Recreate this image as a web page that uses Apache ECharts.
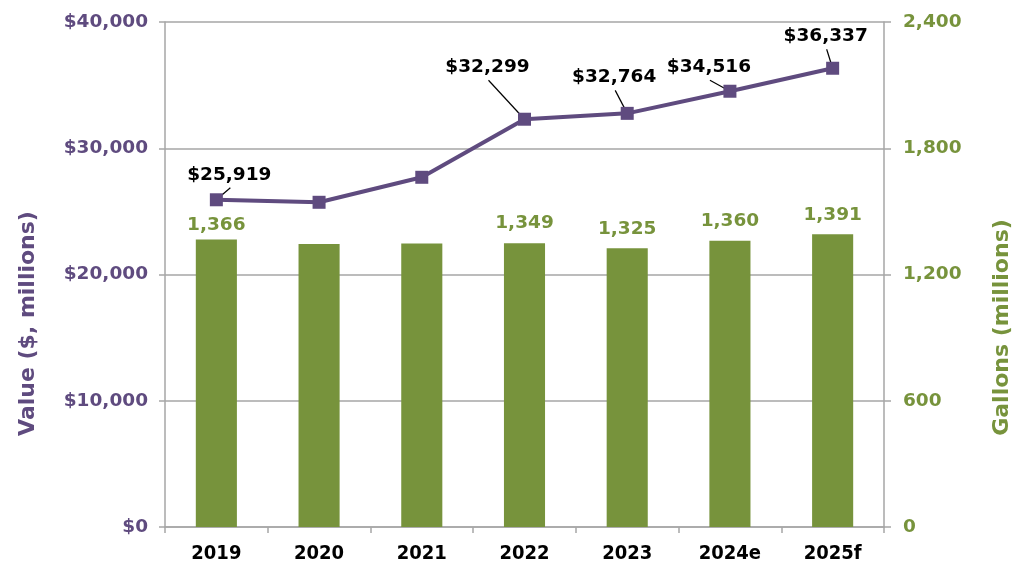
<!DOCTYPE html>
<html>
<head>
<meta charset="utf-8">
<script src="https://cdn.jsdelivr.net/npm/echarts@6/dist/echarts.min.js"></script>
<style>
html,body{margin:0;padding:0;background:#fff;}
#chart{width:1024px;height:579px;}
</style>
</head>
<body>
<div id="chart"></div>
<script>
const categories = ['2019', '2020', '2021', '2022', '2023', '2024e', '2025f'];
const valueMillions = [25919, 25720, 27700, 32299, 32764, 34516, 36337];
const gallonsMillions = [1366, 1345, 1347, 1349, 1325, 1360, 1391];
const valueLabelShown = [true, false, false, true, true, true, true];
const gallonsLabelShown = [true, false, false, true, true, true, true];
const leftTicks = [0, 10000, 20000, 30000, 40000];
const rightTicks = [0, 600, 1200, 1800, 2400];

const PURPLE = '#5f4b7f';
const GREEN = '#77933c';
const GRID = '#a6a6a6';
const FONT = '"DejaVu Sans", Verdana, sans-serif';
const COND = '"DejaVu Sans Condensed", "DejaVu Sans", sans-serif';

// label offsets (layout only) for the value labels, by category index
const valueLabelOffsets = {0: [13, -25], 3: [-37, -52], 4: [-13, -36], 5: [-21, -24], 6: [-7, -32]};

const fmt = v => v.toLocaleString('en-US');

const chart = echarts.init(document.getElementById('chart'), null, {renderer: 'canvas'});
chart.setOption({
  animation: false,
  backgroundColor: '#fff',
  grid: {left: 165, right: 140, top: 22, bottom: 52, containLabel: false},
  xAxis: {
    type: 'category',
    data: categories,
    axisLine: {lineStyle: {color: GRID, width: 1.5}},
    axisTick: {show: true, length: 6, lineStyle: {color: GRID, width: 1.5}},
    axisLabel: {color: '#000', fontFamily: COND, fontWeight: 'bold', fontSize: 20, margin: 17}
  },
  yAxis: [{
    type: 'value', min: leftTicks[0], max: leftTicks[leftTicks.length - 1], interval: leftTicks[1] - leftTicks[0],
    position: 'left',
    name: 'Value ($, millions)', nameLocation: 'middle', nameRotate: 90, nameGap: 126,
    nameTextStyle: {color: PURPLE, fontFamily: FONT, fontWeight: 'bold', fontSize: 22, padding: [0, 98, 0, 0]},
    axisLine: {show: true, lineStyle: {color: GRID, width: 1.5}},
    axisTick: {show: true, length: 6, lineStyle: {color: GRID, width: 1.5}},
    axisLabel: {color: PURPLE, fontFamily: FONT, fontWeight: 'bold', fontSize: 18.5, margin: 17,
      formatter: v => '$' + fmt(v)},
    splitLine: {show: true, lineStyle: {color: GRID, width: 1.5}}
  }, {
    type: 'value', min: rightTicks[0], max: rightTicks[rightTicks.length - 1], interval: rightTicks[1] - rightTicks[0],
    position: 'right',
    name: 'Gallons (millions)', nameLocation: 'middle', nameRotate: 90, nameGap: 107,
    nameTextStyle: {color: GREEN, fontFamily: FONT, fontWeight: 'bold', fontSize: 22, padding: [0, 106, 0, 0]},
    axisLine: {show: true, lineStyle: {color: GRID, width: 1.5}},
    axisTick: {show: true, length: 7, lineStyle: {color: GRID, width: 1.5}},
    axisLabel: {color: GREEN, fontFamily: FONT, fontWeight: 'bold', fontSize: 18.5, margin: 19,
      formatter: v => fmt(v)},
    splitLine: {show: false}
  }],
  series: [{
    type: 'bar',
    yAxisIndex: 1,
    barWidth: '40%',
    itemStyle: {color: GREEN},
    z: 2,
    data: gallonsMillions.map((v, i) => ({
      value: v,
      label: i === 0 ? {show: gallonsLabelShown[i], distance: 5} : {show: gallonsLabelShown[i]}
    })),
    label: {position: 'top', distance: 10, color: GREEN, fontFamily: FONT, fontWeight: 'bold', fontSize: 18.5,
      formatter: p => fmt(p.value)}
  }, {
    type: 'line',
    yAxisIndex: 0,
    symbol: 'rect',
    symbolSize: 13,
    lineStyle: {color: PURPLE, width: 4},
    itemStyle: {color: PURPLE},
    z: 5,
    data: valueMillions.map((v, i) => ({
      value: v,
      label: {show: valueLabelShown[i]}
    })),
    label: {position: 'inside', color: '#000', fontFamily: FONT, fontWeight: 'bold', fontSize: 18.5,
      formatter: p => '$' + fmt(p.value)},
    labelLayout: p => {
      const o = valueLabelOffsets[p.dataIndex];
      return o ? {dx: o[0], dy: o[1]} : {};
    }
  }]
});

// leader lines from each value label to its point, positioned via the chart's own scales
const leaders = [];
valueMillions.forEach((v, i) => {
  const o = valueLabelOffsets[i];
  if (!o || !valueLabelShown[i]) return;
  const p = chart.convertToPixel({seriesIndex: 1}, [i, v]);
  leaders.push({
    type: 'line',
    z: 3,
    shape: {x1: p[0] + o[0] + 1, y1: p[1] + o[1] + 13, x2: p[0], y2: p[1]},
    style: {stroke: '#000', lineWidth: 1.2}
  });
});
chart.setOption({graphic: leaders});
</script>
</body>
</html>
